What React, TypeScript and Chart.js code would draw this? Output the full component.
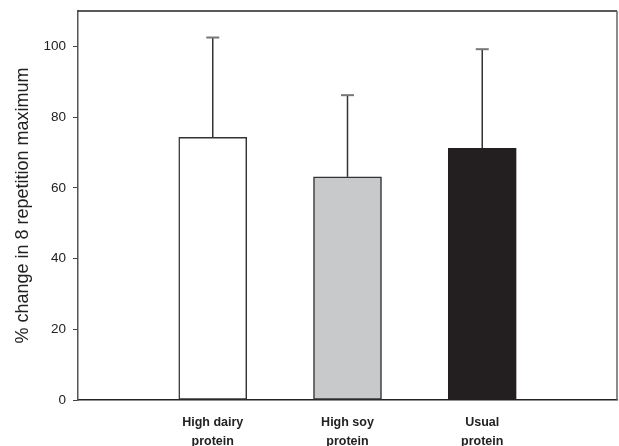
import React, { useEffect, useRef } from "react";
import { Chart, registerables } from "chart.js";

Chart.register(...registerables);

// Data
const groupLabels: string[][] = [
  ["High dairy", "protein"],
  ["High soy", "protein"],
  ["Usual", "protein"],
];
const meanValues: number[] = [74.3, 63.1, 71.2];
const errorTops: number[] = [102.5, 86.2, 99.2];
const barFills: string[] = ["#ffffff", "#c8c9cb", "#231f20"];
const barBorders: string[] = ["#333333", "#333333", "#231f20"];
const yTickValues: number[] = [0, 20, 40, 60, 80, 100];
const yTitle = "% change in 8 repetition maximum";

const FONT = "'Liberation Sans', Arial, Helvetica, sans-serif";

export default function App() {
  const ref = useRef<HTMLCanvasElement | null>(null);

  useEffect(() => {
    if (!ref.current) return;
    // slot 0 and last slot are empty, bars sit in slots 1..n
    const labels: (string | string[])[] = ["", ...groupLabels, ""];
    const data: (number | null)[] = [null, ...meanValues, null];
    const fills = ["#fff", ...barFills, "#fff"];
    const borders = ["#fff", ...barBorders, "#fff"];

    const errorPlugin = {
      id: "errorBars",
      afterDatasetsDraw(chart: any) {
        const { ctx, scales } = chart;
        const xs = scales.x;
        const ys = scales.y;
        ctx.save();
        meanValues.forEach((m, i) => {
          const x = xs.getPixelForValue(i + 1);
          const yBar = ys.getPixelForValue(m);
          const yTop = ys.getPixelForValue(errorTops[i]);
          ctx.strokeStyle = "#333";
          ctx.lineWidth = 1.5;
          ctx.beginPath();
          ctx.moveTo(x, yBar);
          ctx.lineTo(x, yTop);
          ctx.stroke();
          ctx.strokeStyle = "#777";
          ctx.lineWidth = 2;
          ctx.beginPath();
          ctx.moveTo(x - 6.5, yTop);
          ctx.lineTo(x + 6.5, yTop);
          ctx.stroke();
        });
        ctx.restore();
      },
      afterDraw(chart: any) {
        const { ctx, chartArea } = chart;
        ctx.save();
        ctx.lineWidth = 1.5;
        ctx.strokeStyle = "#222";
        ctx.beginPath();
        ctx.moveTo(chartArea.left, chartArea.top);
        ctx.lineTo(chartArea.right, chartArea.top);
        ctx.stroke();
        ctx.strokeStyle = "#666";
        ctx.beginPath();
        ctx.moveTo(chartArea.right, chartArea.top);
        ctx.lineTo(chartArea.right, chartArea.bottom);
        ctx.stroke();
        ctx.restore();
      },
    };

    const chart = new Chart(ref.current, {
      type: "bar",
      data: {
        labels,
        datasets: [
          {
            data,
            backgroundColor: fills,
            borderColor: borders,
            borderWidth: 1.5,
            borderSkipped: false,
            barThickness: 68,
          },
        ],
      },
      options: {
        responsive: false,
        animation: false,
        layout: { padding: { left: 8, right: 2, top: 11, bottom: 0 } },
        plugins: {
          legend: { display: false },
          tooltip: { enabled: false },
        },
        scales: {
          x: {
            offset: false,
            afterFit: (s: any) => {
              s.paddingLeft = 0;
              s.paddingRight = 0;
              s.height = 52;
            },
            grid: { display: false, drawTicks: false },
            border: { display: true, color: "#222", width: 1.5 },
            ticks: {
              autoSkip: false,
              maxRotation: 0,
              padding: 13.5,
              color: "#222",
              font: { family: FONT, size: 12.5, weight: "bold", lineHeight: 1.52 },
            },
          },
          y: {
            min: 0,
            max: 110,
            afterBuildTicks: (s: any) => {
              s.ticks = yTickValues.map((v) => ({ value: v }));
            },
            afterFit: (s: any) => {
              s.paddingTop = 0;
              s.paddingBottom = 0;
              s.width = 70;
            },
            grid: {
              display: true,
              drawOnChartArea: false,
              drawTicks: true,
              tickLength: 5,
              color: "#444",
            },
            border: { display: true, color: "#555", width: 1.5 },
            ticks: {
              padding: 7,
              color: "#222",
              font: { family: FONT, size: 13.5 },
            },
            title: {
              display: true,
              text: yTitle,
              color: "#222",
              font: { family: FONT, size: 18 },
              padding: { top: 4, bottom: 4 },
            },
          },
        },
      },
      plugins: [errorPlugin],
    });
    return () => chart.destroy();
  }, []);

  return (
    <div
      style={{
        position: "fixed",
        left: 0,
        top: 0,
        width: 619,
        height: 446,
        overflow: "hidden",
        background: "#fff",
      }}
    >
      <canvas ref={ref} width={619} height={452} style={{ display: "block" }} />
    </div>
  );
}
